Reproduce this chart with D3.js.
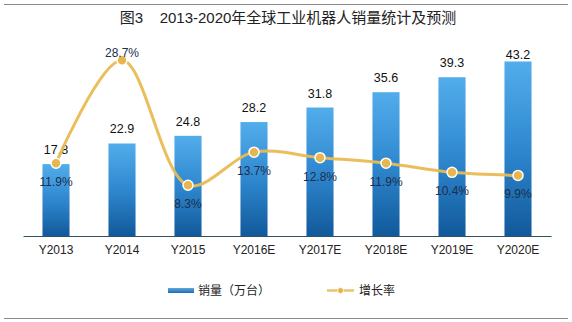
<!DOCTYPE html>
<html>
<head>
<meta charset="utf-8">
<script src="https://cdn.jsdelivr.net/npm/d3@7/dist/d3.min.js"></script>
<style>
html,body{margin:0;padding:0;background:#fff;}
svg{display:block;}
text{font-family:"Liberation Sans",Arial,"Noto Sans CJK SC",sans-serif;}
</style>
</head>
<body>
<script>
const categories = ["Y2013","Y2014","Y2015","Y2016E","Y2017E","Y2018E","Y2019E","Y2020E"];
const sales = [17.8,22.9,24.8,28.2,31.8,35.6,39.3,43.2];
const growth = [0.119,0.287,0.083,0.137,0.128,0.119,0.104,0.099];
const growthLabels = ["11.9%","28.7%","8.3%","13.7%","12.8%","11.9%","10.4%","9.9%"];
const titleText = "图3\u00a0\u00a0\u00a0\u00a02013-2020年全球工业机器人销量统计及预测";
const legendSales = "销量（万台）";
const legendGrowth = "增长率";

const W = 572, H = 322;
const svg = d3.select("body").append("svg").attr("width", W).attr("height", H);

const defs = svg.append("defs");
const grad = defs.append("linearGradient").attr("id","barGrad").attr("x1",0).attr("y1",0).attr("x2",0).attr("y2",1);
grad.append("stop").attr("offset","0%").attr("stop-color","#52ADEB");
grad.append("stop").attr("offset","50%").attr("stop-color","#2F88CF");
grad.append("stop").attr("offset","100%").attr("stop-color","#11599B");
const lgrad = defs.append("linearGradient").attr("id","legGrad").attr("x1",0).attr("y1",0).attr("x2",0).attr("y2",1);
lgrad.append("stop").attr("offset","0%").attr("stop-color","#5FA8DF");
lgrad.append("stop").attr("offset","100%").attr("stop-color","#1E6BB0");

// frame lines
svg.append("line").attr("x1",4).attr("x2",568).attr("y1",4.5).attr("y2",4.5).attr("stroke","#8a8a8a").attr("stroke-width",1.2);
svg.append("line").attr("x1",4).attr("x2",568).attr("y1",318.5).attr("y2",318.5).attr("stroke","#8a8a8a").attr("stroke-width",1.2);

// title
svg.append("text").attr("x",288).attr("y",23).attr("text-anchor","middle")
  .attr("font-size",15).attr("fill","#222").text(titleText);

const x = d3.scaleBand().domain(categories).range([23,551]).paddingInner(0.59).paddingOuter(0.295);
const y = d3.scaleLinear().domain([0,50]).range([236,34]);
const y2 = d3.scaleLinear().domain([0,0.33]).range([236,34]);
const cx = d => x(d) + x.bandwidth()/2;

// bars
svg.append("g").selectAll("rect").data(categories).join("rect")
  .attr("x", d => x(d)).attr("width", x.bandwidth())
  .attr("y", (d,i) => y(sales[i])).attr("height", (d,i) => y(0) - y(sales[i]))
  .attr("fill","url(#barGrad)");

// axis
const xAxis = d3.axisBottom(x).tickSize(0).tickPadding(9);
const ax = svg.append("g").attr("transform","translate(0,236)").call(xAxis);
ax.select(".domain").attr("stroke","#2F5262").attr("stroke-width",1.2);
ax.selectAll("text").attr("font-size",12).attr("fill","#222")
  .attr("font-family",'"Liberation Sans",Arial,sans-serif');

// value labels
svg.append("g").selectAll("text").data(categories).join("text")
  .attr("x", d => cx(d))
  .attr("y", (d,i) => Math.max(y(sales[i]) - 10, 59))
  .attr("text-anchor","middle").attr("font-size",12.5).attr("fill","#111")
  .text((d,i) => sales[i].toFixed(1));

// growth line
const pts = categories.map((d,i) => [cx(d), y2(growth[i])]);
svg.append("path").datum(pts)
  .attr("d", d3.line().curve(d3.curveCatmullRom.alpha(0.5)))
  .attr("fill","none").attr("stroke","#E9BA52").attr("stroke-width",3).attr("opacity",0.95);
svg.append("g").selectAll("circle").data(pts).join("circle")
  .attr("cx", d => d[0]).attr("cy", d => d[1]).attr("r",5)
  .attr("fill","#E8B54E").attr("stroke","#fff").attr("stroke-width",1.5);

// growth labels
svg.append("g").selectAll("text").data(categories).join("text")
  .attr("x", d => cx(d))
  .attr("y", (d,i) => i === 1 ? y2(growth[i]) - 3 : y2(growth[i]) + 23)
  .attr("text-anchor","middle").attr("font-size",12).attr("fill","#1C2F4C")
  .text((d,i) => growthLabels[i]);

// legend
const lg = svg.append("g");
lg.append("rect").attr("x",168).attr("y",288).attr("width",26).attr("height",5).attr("fill","url(#legGrad)");
lg.append("text").attr("x",198).attr("y",295).attr("font-size",12).attr("fill","#222").text(legendSales);
lg.append("line").attr("x1",327).attr("x2",354).attr("y1",290.5).attr("y2",290.5).attr("stroke","#E8C36E").attr("stroke-width",2.5);
lg.append("circle").attr("cx",340.5).attr("cy",290.5).attr("r",3).attr("fill","#E5B24C").attr("stroke","#fff").attr("stroke-width",0.8);
lg.append("text").attr("x",359).attr("y",295).attr("font-size",12).attr("fill","#222").text(legendGrowth);
</script>
</body>
</html>
